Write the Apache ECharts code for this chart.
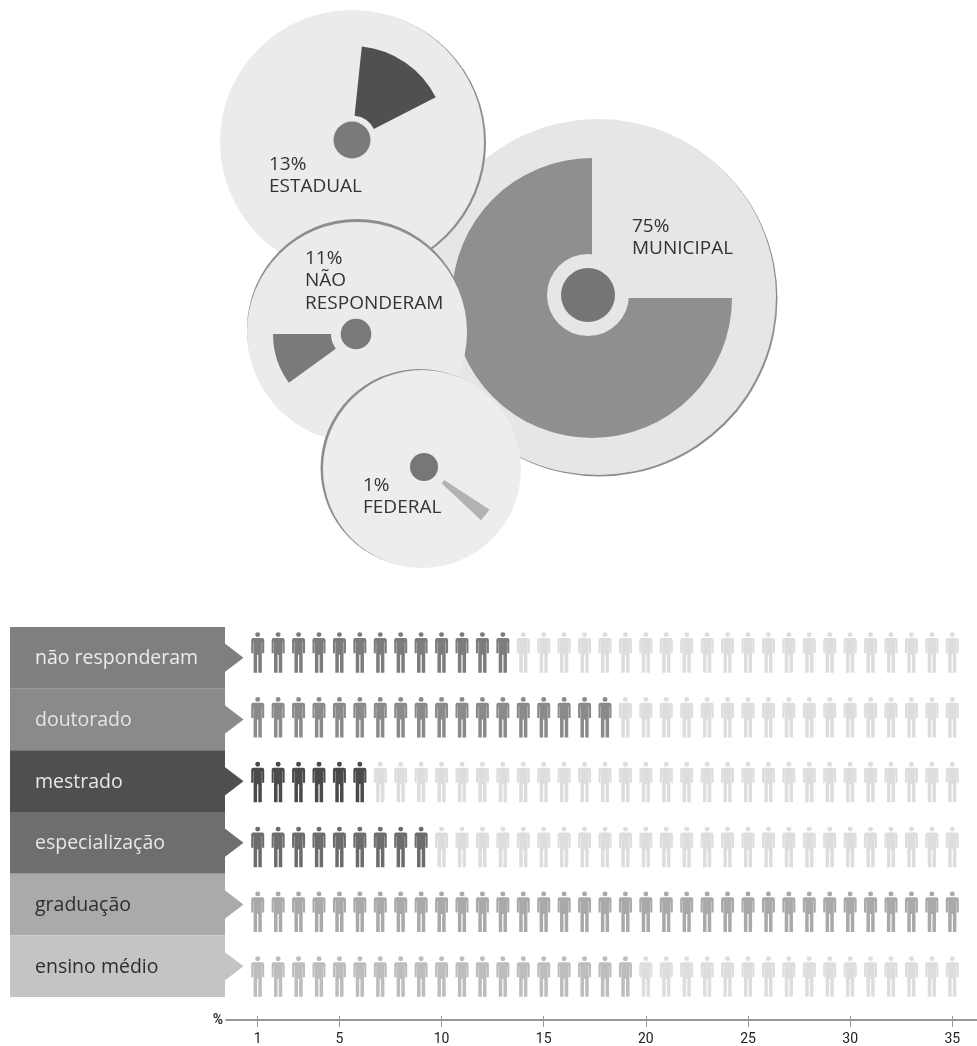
<!DOCTYPE html>
<html>
<head>
<meta charset="utf-8">
<style>
  html, body { margin: 0; background: #fff; }
  #chart { width: 977px; height: 1046px; }
</style>
<script src="https://cdn.jsdelivr.net/npm/echarts@6/dist/echarts.min.js"></script>
</head>
<body>
<div id="chart"></div>
<script>
// top: share per type of institution
const shareNames = ['MUNICIPAL', 'ESTADUAL', 'NÃO\nRESPONDERAM', 'FEDERAL'];
const sharePercents = [75, 13, 11, 1];
// slice widths as drawn in the picture, in degrees
const shareSweeps = [270, 57, 36, 10];

// bottom: education level, people per row out of 35
const levels = ['não responderam', 'doutorado', 'mestrado', 'especialização', 'graduação', 'ensino médio'];
const levelCounts = [13, 18, 6, 9, 35, 19];
const peoplePerRow = 35;
const tickValues = [1, 5, 10, 15, 20, 25, 30, 35];

// drawing order: back to front, same order as the share arrays
const discs = [
    { center: [598, 297], r: 178, shade: [1.5, 1.5], fill: '#e6e6e6', shadeFill: '#8d8d8d',
      hub: [588, 295], hubR: 27, ringR: 41, sector: [592, 298], inner: 0, outer: 140, start: 0, color: '#8f8f8f', hubColor: '#757575',
      text: [632, 215] },
    { center: [352, 142], r: 132, shade: [2, 1], fill: '#ebebeb', shadeFill: '#8d8d8d',
      hub: [352, 140], hubR: 18.5, sector: [352, 140], inner: 24.5, outer: 94, start: 84, color: '#505050', hubColor: '#7a7a7a',
      text: [269, 153] },
    { center: [357, 332], r: 110, shade: [0, -3], fill: '#ebebeb', shadeFill: '#8d8d8d',
      hub: [356, 334], hubR: 15.3, sector: [356, 334], inner: 25, outer: 83, start: 216, color: '#7a7a7a', hubColor: '#7a7a7a',
      text: [305, 247] },
    { center: [422, 469], r: 99, shade: [-2.5, -1], fill: '#ededed', shadeFill: '#8d8d8d',
      hub: [424, 467], hubR: 14, sector: [424, 467], inner: 24, outer: 78, start: 327, color: '#b2b2b2', hubColor: '#777777',
      text: [363, 474] }
];

const blockColors = ['#7f7f7f', '#8a8a8a', '#4f4f4f', '#6e6e6e', '#aaaaaa', '#c4c4c4'];
const blockTextColors = ['#ececec', '#e4e4e4', '#e8e8e8', '#e8e8e8', '#2e2e2e', '#2e2e2e'];
const personColors = ['#7c7c7c', '#8a8a8a', '#4a4a4a', '#6c6c6c', '#a9a9a9', '#bdbdbd'];
const personOff = '#dddddd';

const personPath = 'path://M4 2.4a2.5 2.4 0 1 1 5 0a2.5 2.4 0 1 1-5 0Z' +
    'M2 5.8H11Q13 5.8 13 7.8V21H10.9V9.5H10.6V40.5H7.1V22.5H5.9V40.5H2.4V9.5H2.1V21H0V7.8Q0 5.8 2 5.8Z';

function disc(center, r, color, z) {
    return {
        type: 'pie', silent: true, z: z, center: center, radius: [0, r],
        label: { show: false }, labelLine: { show: false },
        data: [{ value: 1, itemStyle: { color: color } }]
    };
}

let series = [];
let texts = [];
discs.forEach((d, i) => {
    const z = 2 + i * 5;
    series.push(disc([d.center[0] + d.shade[0], d.center[1] + d.shade[1]], d.r, d.shadeFill, z));
    series.push(disc(d.center, d.r, d.fill, z + 1));
    series.push({
        type: 'pie', silent: true, z: z + 2, center: d.sector, radius: [d.inner, d.outer],
        startAngle: d.start, clockwise: true,
        label: { show: false }, labelLine: { show: false },
        data: [
            { value: shareSweeps[i], itemStyle: { color: d.color } },
            { value: 360 - shareSweeps[i], itemStyle: { color: 'rgba(0,0,0,0)' } }
        ]
    });
    if (d.ringR) series.push(disc(d.hub, d.ringR, d.fill, z + 3));
    series.push(disc(d.hub, d.hubR, d.hubColor, z + 4));
    texts.push({
        type: 'text', left: d.text[0], top: d.text[1], z: 100,
        style: {
            text: sharePercents[i] + '%\n' + shareNames[i],
            font: '19px "Open Sans"', lineHeight: 22.5, fill: '#333333'
        }
    });
});

// rows of people
let people = [];
levels.forEach((level, row) => {
    for (let n = 1; n <= peoplePerRow; n++) {
        people.push({
            value: [n, level],
            itemStyle: { color: n <= levelCounts[row] ? personColors[row] : personOff }
        });
    }
});

series.push({
    type: 'bar', xAxisIndex: 0, yAxisIndex: 0, silent: true, barWidth: '100%', z: 2,
    data: levels.map((level, i) => ({
        value: 1,
        itemStyle: { color: blockColors[i] },
        label: { color: blockTextColors[i] }
    })),
    label: {
        show: true, position: 'insideLeft', distance: 25, offset: [0, 1], formatter: '{b}',
        fontFamily: 'Open Sans', fontSize: 19.5
    }
});
// arrow tip of every block
series.push({
    type: 'scatter', xAxisIndex: 0, yAxisIndex: 0, silent: true, clip: false, z: 2,
    symbol: 'path://M0 0L1 14L0 28Z', symbolSize: [19, 29], symbolOffset: [9, 0],
    data: levels.map((level, i) => ({ value: [1, level], itemStyle: { color: blockColors[i], opacity: 1 } }))
});
series.push({
    type: 'scatter', xAxisIndex: 1, yAxisIndex: 1, silent: true, clip: false, z: 2,
    symbol: personPath, symbolSize: [13, 40.5],
    itemStyle: { opacity: 1 },
    data: people
});

const chart = echarts.init(document.getElementById('chart'), null, { renderer: 'canvas' });
chart.setOption({
    backgroundColor: '#fff',
    animation: false,
    grid: [
        { left: 10, top: 627, width: 215, height: 370 },
        { left: 226, top: 620, width: 751, height: 389 }
    ],
    xAxis: [
        { type: 'value', gridIndex: 0, min: 0, max: 1, show: false },
        {
            type: 'value', gridIndex: 1, min: -0.552, max: 36.21, position: 'bottom', offset: 11,
            name: '%', nameLocation: 'start', nameGap: 3,
            nameTextStyle: { fontFamily: 'Roboto', fontSize: 14, fontWeight: 'bold', color: '#333' },
            splitLine: { show: false },
            axisLine: { show: true, lineStyle: { color: '#777', width: 1.5 } },
            axisTick: { show: true, customValues: tickValues, length: 7, lineStyle: { color: '#999' } },
            axisLabel: {
                customValues: tickValues, margin: 12, hideOverlap: false,
                fontFamily: 'Roboto', fontSize: 14, color: '#222'
            }
        },
        {
            type: 'value', gridIndex: 1, min: -0.552, max: 36.21, position: 'bottom', offset: 11,
            splitLine: { show: false }, axisLine: { show: false }, axisLabel: { show: false },
            axisTick: { show: true, customValues: tickValues, inside: true, length: 4, lineStyle: { color: '#999' } }
        }
    ],
    yAxis: [
        { type: 'category', gridIndex: 0, data: levels, inverse: true, show: false },
        { type: 'category', gridIndex: 1, data: levels, inverse: true, show: false }
    ],
    graphic: texts,
    series: series
});
</script>
</body>
</html>
